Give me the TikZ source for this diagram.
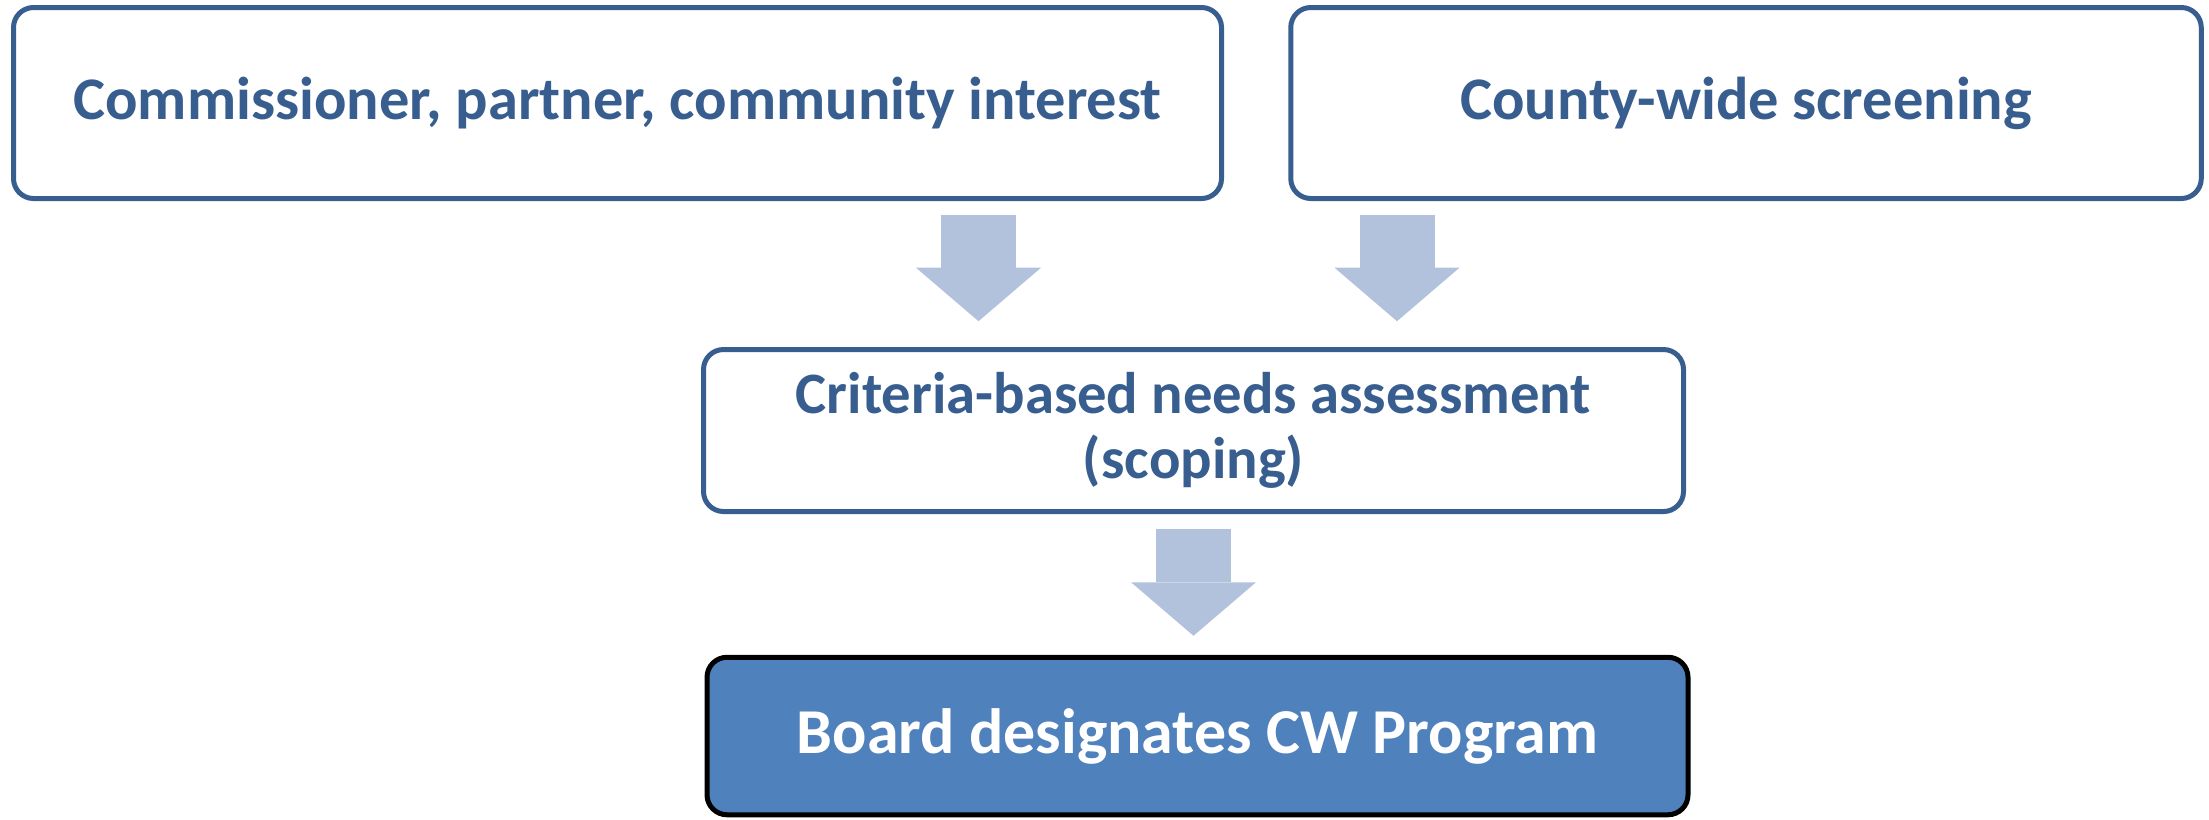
\documentclass[tikz,border=0pt]{standalone}
\usepackage{fontspec}
\setmainfont{Carlito}
\usetikzlibrary{arrows.meta}

\definecolor{boxblue}{RGB}{56,94,143}
\definecolor{arrowblue}{RGB}{179,194,220}
\definecolor{boardfill}{RGB}{79,129,189}

\tikzset{
    stepbox/.style={draw=boxblue, line width=0.05cm, rounded corners=0.2cm, fill=white,
        text=boxblue, inner sep=0pt, align=center, font=\bfseries\fontsize{17.2}{20}\selectfont},
    flow/.style={draw=arrowblue, line width=0.75cm,
        -{Triangle[width=1.25cm, length=0.535cm, line width=0pt]}}
}

\begin{document}
\begin{tikzpicture}
    \useasboundingbox (0,0) rectangle (22.09,-8.19);

    % Draw the two source boxes
    \node[stepbox, minimum width=12.08cm, minimum height=1.91cm] (interest) at (6.175,-1.03)
        {Commissioner, partner, community interest};
    \node[stepbox, minimum width=9.105cm, minimum height=1.91cm] (county) at (17.46,-1.03)
        {County-wide screening};

    % Draw the assessment box
    \node[stepbox, minimum width=9.80cm, minimum height=1.62cm,
        font=\bfseries\fontsize{16.7}{18.6}\selectfont] (needs) at (11.935,-4.305)
        {Criteria-based needs assessment\\(scoping)};

    % Draw the final box
    \node[stepbox, draw=black, fill=boardfill, text=white,
        font=\bfseries\fontsize{18.2}{21}\selectfont,
        minimum width=9.81cm, minimum height=1.575cm] (board) at (11.975,-7.36)
        {Board designates CW Program};

    % Place the arrow columns
    \coordinate (col1) at (9.785,0);
    \coordinate (col2) at (13.97,0);

    % Draw the block arrows
    \draw[flow, shorten <=0.14cm, shorten >=0.258cm] (interest.south -| col1) -- (needs.north -| col1);
    \draw[flow, shorten <=0.14cm, shorten >=0.258cm] (county.south -| col2) -- (needs.north -| col2);
    \draw[flow, shorten <=0.148cm, shorten >=0.19cm] (needs.south) -- (needs.south |- board.north);
\end{tikzpicture}
\end{document}
